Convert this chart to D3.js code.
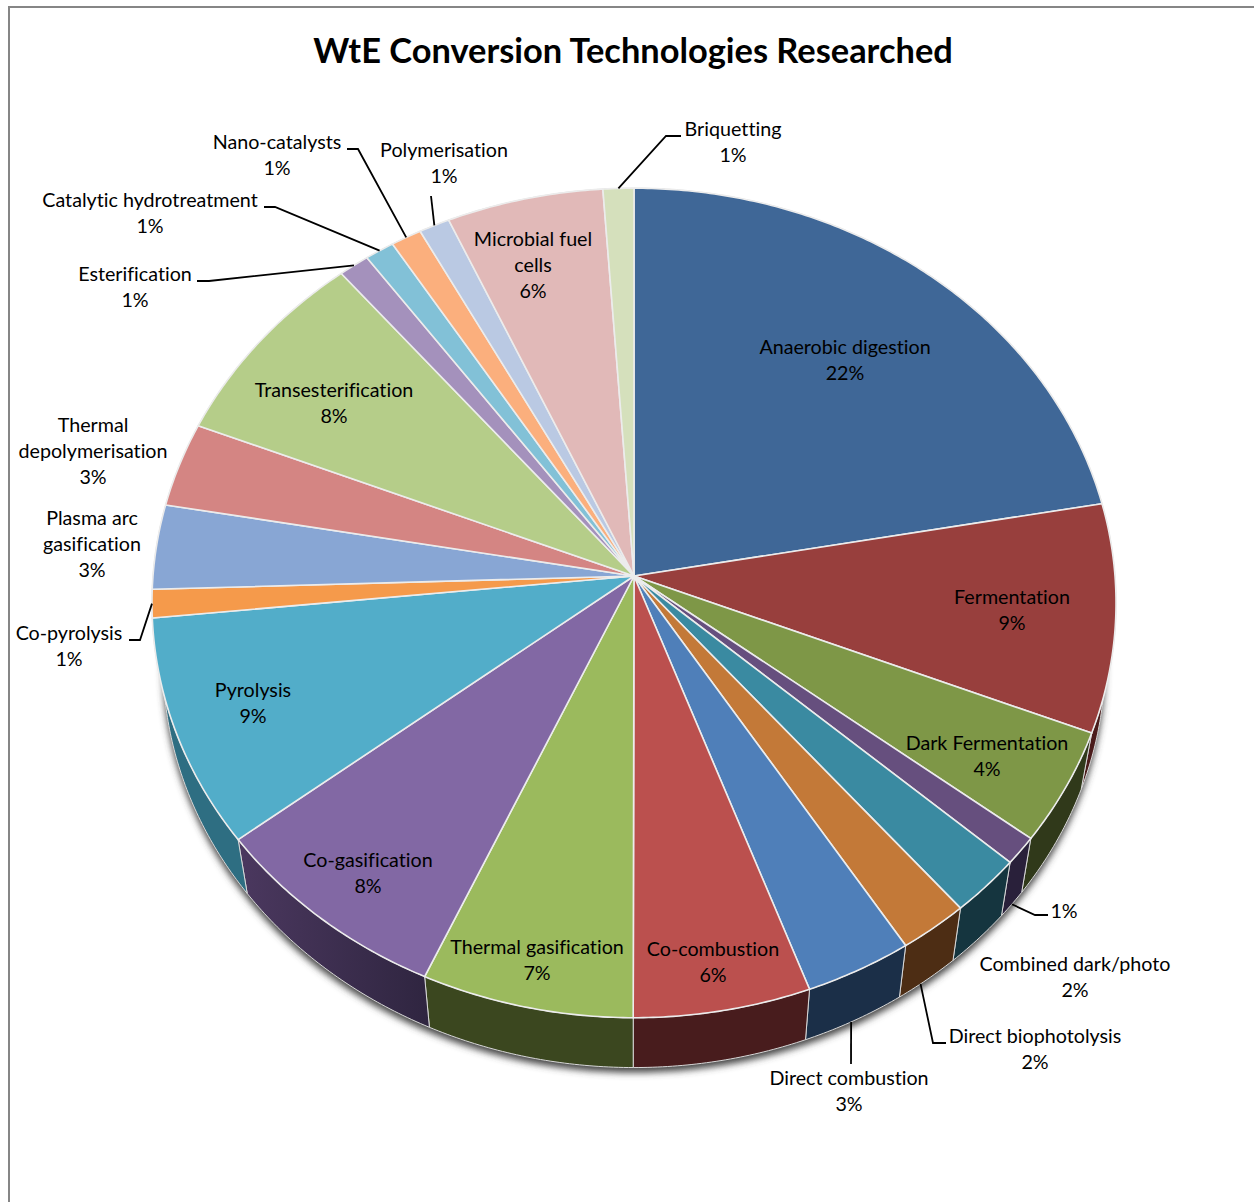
<!DOCTYPE html>
<html>
<head>
<meta charset="utf-8">
<title>WtE Conversion Technologies Researched</title>
<script src="https://cdn.jsdelivr.net/npm/d3@7"></script>
<style>
  html, body { margin: 0; background: #fff; }
  svg { display: block; }
  text { font-family: Lato, "Open Sans", sans-serif; fill: #000; font-variant-ligatures: none; }
</style>
</head>
<body>
<script>
const title = 'WtE Conversion Technologies Researched'

const categories = [
  'Anaerobic digestion', 'Fermentation', 'Dark Fermentation', '',
  'Combined dark/photo', 'Direct biophotolysis', 'Direct combustion', 'Co-combustion',
  'Thermal gasification', 'Co-gasification', 'Pyrolysis', 'Co-pyrolysis',
  'Plasma arc\ngasification', 'Thermal\ndepolymerisation', 'Transesterification', 'Esterification',
  'Catalytic hydrotreatment', 'Nano-catalysts', 'Polymerisation', 'Microbial fuel\ncells', 'Briquetting'
]
const values = [
  22.2, 8.9, 4.4, 1.1,
  2.3, 2.2, 3.4, 5.6,
  6.7, 7.8, 8.9, 1.1,
  3.3, 3.3, 7.9, 1.1,
  1.05, 1.1, 1.1, 5.6, 1.1
]
const colors = [
  '#3f6797', '#983f3d', '#7e9747', '#664f7e',
  '#3a8aa1', '#c37938', '#4f7fb9', '#bb504e',
  '#9bba5d', '#8268a4', '#52adc9', '#f59a4b',
  '#88a6d4', '#d48583', '#b5cd89', '#a491bc',
  '#82c1d7', '#fbaf7d', '#bac9e3', '#e1b9b8', '#d5e0bc'
]
const sideColors = [
  '#27405e', '#4b1c1b', '#30391a', '#29203a',
  '#15353f', '#4d2d14', '#1b2f48', '#481c1d',
  '#3b471f', 'url(#coGasSide)', '#2e6e82', '#97602e',
  '#546783', '#835251', '#707f55', '#655a74',
  '#507785', '#9b6c4d', '#737c8c', '#8b7271', '#848b74'
]

// label centre of the first line, by slice
const labelAt = [
  [845, 347], [1012, 597], [987, 743], [1064, 911],
  [1075, 964], [1035, 1036], [849, 1078], [713, 949],
  [537, 947], [368, 860], [253, 690], [69, 633],
  [92, 518], [93, 425], [334, 390], [135, 274],
  [150, 200], [277, 142], [444, 150], [533, 239], [733, 129]
]
// leader lines: slice index, which rim it leaves from and how far along, then the points after it
const leaders = [
  { i: 3, rim: 'bottom', at: 0.5, pts: [[1035, 915], [1048, 915]] },
  { i: 5, rim: 'bottom', at: 0.62, pts: [[933, 1043], [946, 1043]] },
  { i: 6, rim: 'bottom', at: 0.53, pts: [[851, 1064]] },
  { i: 11, rim: 'top', at: 0.5, pts: [[140, 640], [129, 640]] },
  { i: 15, rim: 'top', at: 0.5, pts: [[209, 281], [197, 281]] },
  { i: 16, rim: 'top', at: 0.5, pts: [[275, 207], [264, 207]] },
  { i: 17, rim: 'top', at: 0.5, pts: [[358, 149], [347, 149]] },
  { i: 18, rim: 'top', at: 0.5, pts: [[431, 196]] },
  { i: 20, rim: 'top', at: 0.5, pts: [[666, 136], [681, 136]] }
]

const width = 1254
const height = 1202
const cx = 634
const cy = 576
const R = 481
const K = 413
const p = 0.065
const depthScale = 0.977
const depthShift = 60

// angle on the disc -> screen point, tilted with a little perspective
const project = (a, r = 1) => {
  const u = Math.sin(a) * r
  const v = -Math.cos(a) * r
  const s = 1 / (1 - p * v)
  return [cx + R * u * s, cy + K * v * s]
}
const lower = ([x, y]) => [
  cx + (x - cx) * depthScale,
  cy + (y - cy) * depthScale + depthShift
]

const arcs = d3.pie().sort(null).value(d => d)(values)
const total = d3.sum(values)
const pct = d3.format('.0%')
const line = d3.line()

const rimPoints = (a0, a1) => {
  const n = Math.max(2, Math.ceil((a1 - a0) / 0.01))
  return d3.range(n + 1).map(i => project(a0 + (a1 - a0) * i / n))
}

const svg = d3.select('body').append('svg')
  .attr('width', width)
  .attr('height', height)

const defs = svg.append('defs')
defs.append('filter')
  .attr('id', 'shadow')
  .attr('x', '-5%').attr('y', '-5%').attr('width', '110%').attr('height', '110%')
  .append('feGaussianBlur')
  .attr('stdDeviation', 3.5)

const coGasSide = defs.append('linearGradient').attr('id', 'coGasSide')
coGasSide.append('stop').attr('offset', 0).attr('stop-color', '#4b385f')
coGasSide.append('stop').attr('offset', 1).attr('stop-color', '#2f2540')

// frame, runs off the right and bottom of the picture
svg.append('rect')
  .attr('x', 9)
  .attr('y', 7)
  .attr('width', width + 50)
  .attr('height', height + 50)
  .attr('fill', '#fff')
  .attr('stroke', '#868686')
  .attr('stroke-width', 2)

svg.append('text')
  .attr('x', 633)
  .attr('y', 51)
  .attr('dy', '0.35em')
  .attr('text-anchor', 'middle')
  .attr('font-size', 34.4)
  .attr('font-weight', 700)
  .text(title)

// shadow under the disc
const wholeRim = rimPoints(0, 2 * Math.PI).map(lower)
svg.append('path')
  .attr('d', line(wholeRim.map(([x, y]) => [x, y + 5])) + 'Z')
  .attr('fill', '#444')
  .attr('filter', 'url(#shadow)')

// sides
const sides = svg.append('g')
sides.selectAll('path')
  .data(arcs)
  .enter()
  .append('path')
  .attr('d', d => {
    const top = rimPoints(d.startAngle, d.endAngle)
    return line(top.concat(top.map(lower).reverse())) + 'Z'
  })
  .attr('fill', (d, i) => sideColors[i])
  .attr('stroke', '#d8d8d8')
  .attr('stroke-width', 1)

// top of the disc
const slices = svg.append('g')
slices.selectAll('path')
  .data(arcs)
  .enter()
  .append('path')
  .attr('d', d => line([[cx, cy]].concat(rimPoints(d.startAngle, d.endAngle))) + 'Z')
  .attr('fill', (d, i) => colors[i])
  .attr('stroke', '#ececec')
  .attr('stroke-width', 1.6)
  .attr('stroke-linejoin', 'round')

// leader lines
svg.append('g')
  .selectAll('path')
  .data(leaders)
  .enter()
  .append('path')
  .attr('d', d => {
    const arc = arcs[d.i]
    const start = project(arc.startAngle + (arc.endAngle - arc.startAngle) * d.at)
    return line([d.rim === 'bottom' ? lower(start) : start].concat(d.pts))
  })
  .attr('fill', 'none')
  .attr('stroke', '#000')
  .attr('stroke-width', 1.8)

// labels
const labels = svg.append('g')
  .attr('font-size', 19.7)
  .attr('text-anchor', 'middle')
labels.selectAll('text')
  .data(arcs)
  .enter()
  .append('text')
  .attr('transform', (d, i) => `translate(${labelAt[i][0]},${labelAt[i][1]})`)
  .each(function (d, i) {
    const rows = categories[i] ? categories[i].split('\n') : []
    rows.push(pct(values[i] / total))
    d3.select(this).selectAll('tspan')
      .data(rows)
      .enter()
      .append('tspan')
      .attr('x', 0)
      .attr('y', (r, j) => j * 26.3)
      .attr('dy', '0.35em')
      .text(r => r)
  })
</script>
</body>
</html>
